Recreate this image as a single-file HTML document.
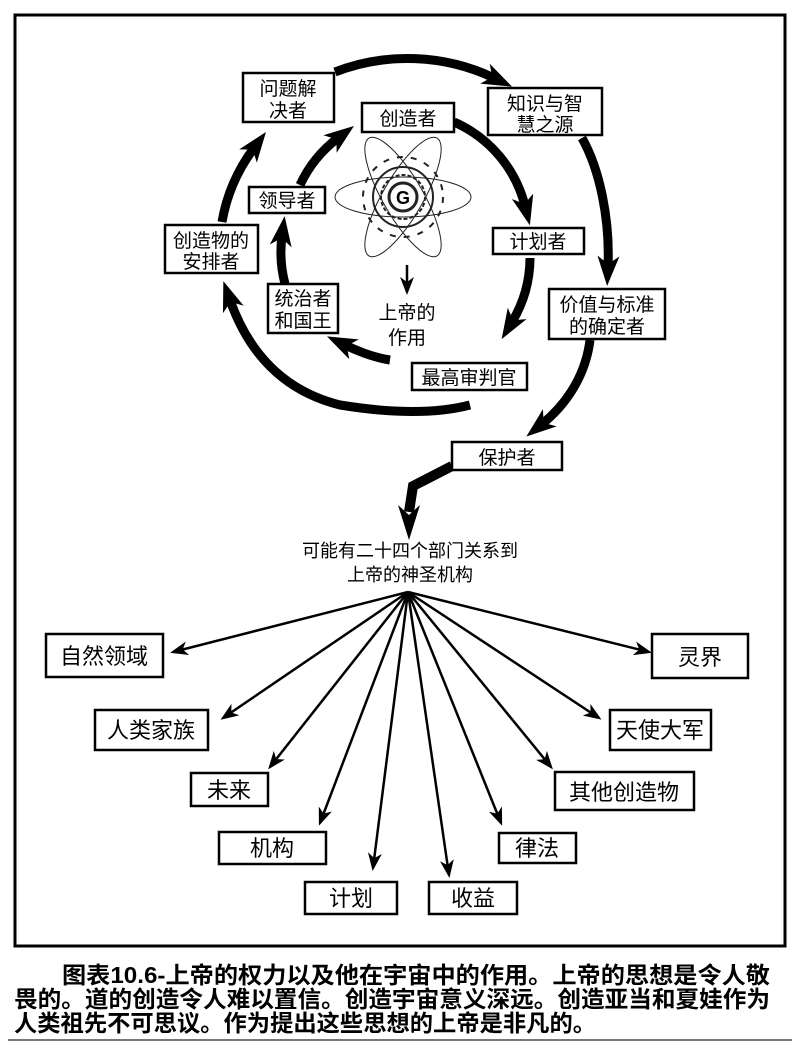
<!DOCTYPE html>
<html><head><meta charset="utf-8"><style>
html,body{margin:0;padding:0;background:#fff;width:800px;height:1054px;overflow:hidden}
svg{display:block}
text{font-family:"Liberation Sans","Noto Sans CJK SC",sans-serif;fill:#000}
</style></head><body>
<svg width="800" height="1054" viewBox="0 0 800 1054" xmlns="http://www.w3.org/2000/svg">
<defs>
<marker id="big" markerUnits="userSpaceOnUse" markerWidth="30" markerHeight="24" refX="10" refY="12" orient="auto">
<path d="M0,1 L30,12 L0,23 L8,12 z" fill="#000"/></marker>
<marker id="sm" markerUnits="userSpaceOnUse" markerWidth="18" markerHeight="14" refX="15" refY="7" orient="auto">
<path d="M0,0 L18,7 L0,14 L5,7 z" fill="#000"/></marker>
</defs>
<rect x="15" y="15" width="770" height="931" fill="none" stroke="#000" stroke-width="3"/>

<!-- atom -->
<g fill="none" stroke="#222" stroke-width="1">
<ellipse cx="403" cy="197" rx="68" ry="20"/>
<ellipse cx="403" cy="197" rx="68" ry="20" transform="rotate(60 403 197)"/>
<ellipse cx="403" cy="197" rx="68" ry="20" transform="rotate(-60 403 197)"/>
<circle cx="403" cy="197" r="30" stroke-width="2"/>
<circle cx="403" cy="197" r="22" stroke-width="2" stroke-dasharray="4 2"/>
<circle cx="403" cy="197" r="40" stroke-width="2" stroke-dasharray="6 8"/>
<circle cx="403" cy="197" r="14" stroke-width="3"/>
</g>
<text x="403" y="204" font-size="18" font-weight="bold" text-anchor="middle">G</text>
<line x1="407" y1="265" x2="407" y2="292" stroke="#000" stroke-width="2.5" marker-end="url(#sm)"/>
<text x="407" y="319" font-size="19" text-anchor="middle">上帝的</text>
<text x="407" y="344" font-size="19" text-anchor="middle">作用</text>

<g fill="none" stroke="#000" stroke-width="9" marker-end="url(#big)">
<path d="M454,122 A125,125 0 0 1 525,206"/>
<path d="M530,258 A125,125 0 0 1 512,322"/>
<path d="M390,360 Q370,357 345,345"/>
<path d="M285,284 A125,125 0 0 1 282,236"/>
<path d="M300,185 A125,125 0 0 1 338,138"/>
<path d="M470,405 Q420,418 340,405 Q260,385 230,300"/>
<path d="M222,222 A190,178 0 0 1 254,148"/>
<path d="M335,72 A190,178 0 0 1 494,78"/>
<path d="M582,138 C600,170 610,220 608,266"/>
<path d="M590,340 C585,380 562,408 542,424"/>
</g>
<path d="M452,466 L413,486 L409,512" fill="none" stroke="#000" stroke-width="10"/>
<path d="M398,505 L409,540 L420,505 L409,515 z" fill="#000"/>

<g fill="#fff" stroke="#000" stroke-width="2.5">
<rect x="243" y="73" width="91" height="49"/>
<rect x="488" y="88" width="114" height="47"/>
<rect x="362" y="103" width="92" height="29"/>
<rect x="249" y="187" width="76" height="26"/>
<rect x="165" y="225" width="93" height="48"/>
<rect x="493" y="228" width="91" height="26"/>
<rect x="549" y="289" width="116" height="50"/>
<rect x="268" y="284" width="70" height="49"/>
<rect x="412" y="363" width="115" height="27"/>
<rect x="452" y="442" width="110" height="28"/>
</g>
<g font-size="19" text-anchor="middle">
<text x="288" y="95">问题解</text><text x="288" y="117">决者</text>
<text x="545" y="110">知识与智</text><text x="545" y="131">慧之源</text>
<text x="408" y="125">创造者</text>
<text x="287" y="207">领导者</text>
<text x="211" y="247">创造物的</text><text x="211" y="268">安排者</text>
<text x="538" y="248">计划者</text>
<text x="607" y="311">价值与标准</text><text x="607" y="333">的确定者</text>
<text x="303" y="305">统治者</text><text x="303" y="327">和国王</text>
<text x="469" y="384">最高审判官</text>
<text x="507" y="464">保护者</text>
</g>

<text x="410" y="557" font-size="18" text-anchor="middle">可能有二十四个部门关系到</text>
<text x="410" y="581" font-size="18" text-anchor="middle">上帝的神圣机构</text>
<g stroke="#000" stroke-width="2.5" marker-end="url(#sm)">
<line x1="408" y1="592" x2="173" y2="652"/>
<line x1="408" y1="592" x2="223" y2="718"/>
<line x1="408" y1="592" x2="270" y2="767"/>
<line x1="408" y1="592" x2="320" y2="823"/>
<line x1="408" y1="592" x2="373" y2="868"/>
<line x1="408" y1="592" x2="449" y2="875"/>
<line x1="408" y1="592" x2="501" y2="823"/>
<line x1="408" y1="592" x2="551" y2="767"/>
<line x1="408" y1="592" x2="599" y2="718"/>
<line x1="408" y1="592" x2="649" y2="652"/>
</g>
<g fill="#fff" stroke="#000" stroke-width="2.5">
<rect x="46" y="634" width="117" height="43"/>
<rect x="652" y="634" width="96" height="44"/>
<rect x="95" y="710" width="113" height="40"/>
<rect x="610" y="710" width="101" height="40"/>
<rect x="191" y="773" width="77" height="33"/>
<rect x="555" y="772" width="139" height="38"/>
<rect x="219" y="832" width="107" height="32"/>
<rect x="499" y="833" width="77" height="30"/>
<rect x="305" y="882" width="92" height="32"/>
<rect x="429" y="882" width="88" height="32"/>
</g>
<g font-size="22" text-anchor="middle">
<text x="104" y="664">自然领域</text>
<text x="700" y="665">灵界</text>
<text x="151" y="738">人类家族</text>
<text x="660" y="738">天使大军</text>
<text x="229" y="798">未来</text>
<text x="624" y="800">其他创造物</text>
<text x="272" y="856">机构</text>
<text x="537" y="856">律法</text>
<text x="351" y="906">计划</text>
<text x="473" y="906">收益</text>
</g>

<g font-size="23" font-weight="bold">
<text x="62" y="983" textLength="708" lengthAdjust="spacingAndGlyphs">图表10.6-上帝的权力以及他在宇宙中的作用。上帝的思想是令人敬</text>
<text x="14" y="1007" textLength="756" lengthAdjust="spacingAndGlyphs">畏的。道的创造令人难以置信。创造宇宙意义深远。创造亚当和夏娃作为</text>
<text x="14" y="1031" textLength="582" lengthAdjust="spacingAndGlyphs">人类祖先不可思议。作为提出这些思想的上帝是非凡的。</text>
</g>
<line x1="8" y1="1040" x2="792" y2="1040" stroke="#777" stroke-width="2"/>
</svg>
</body></html>
